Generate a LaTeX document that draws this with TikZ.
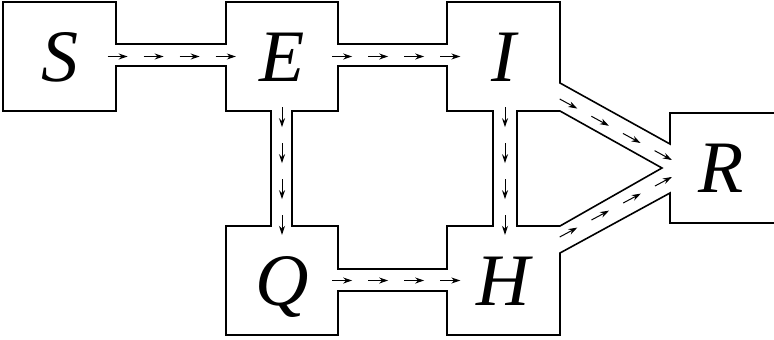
\documentclass[tikz,border=0pt]{standalone}
\usepackage{fontspec}
\setmainfont{Liberation Serif}
\usetikzlibrary{arrows.meta,decorations.markings}

\begin{document}
\begin{tikzpicture}[x=1pt,y=-1pt,>=Stealth,
    comp/.style={minimum width=112pt,minimum height=109pt,inner sep=0pt,
      text height=49pt,text depth=0pt,font=\fontsize{74}{74}\selectfont\itshape},
    wall/.style={line width=1.6pt,line join=miter},
    tip/.style={decoration={markings,
      mark=at position 20pt with {\arrow{Stealth[length=9pt,width=6pt]}},
      mark=at position 56pt with {\arrow{Stealth[length=9pt,width=6pt]}},
      mark=at position 92pt with {\arrow{Stealth[length=9pt,width=6pt]}},
      mark=at position 1 with {\arrow{Stealth[length=9pt,width=6pt]}}}},
    flow/.style={line width=1pt,dash pattern=on 18pt off 18pt,tip,postaction=decorate}]
  \useasboundingbox (0,0) rectangle (774,340);

  % compartments
  \node[comp] (S) at (59.5,56.5) {S};
  \node[comp] (E) at (282,56.5) {E};
  \node[comp] (I) at (503.5,56.5) {I};
  \node[comp] (Q) at (282,280.5) {Q};
  \node[comp] (H) at (503.5,280.5) {H};
  \node[comp,minimum width=102pt,minimum height=110pt] (R) at (721,168) {R};

  % walls of the boxes and pipes (R runs off the right edge)
  \draw[wall] (774,223) -| (670,193) -- (560,253) |- (447,335) |- (338,291)
    |- (226,335) |- (271,226) |- (226,111) |- (116,66) |- (3,111) -- (3,2)
    -| (116,44) -| (226,2) -| (338,44) -| (447,2) -| (560,83) -- (670,144)
    |- (774,113);
  \draw[wall] (292,111) -| (338,66) -| (447,111) -| (493,226) -| (447,269)
    -| (338,226) -- (292,226) -- cycle;
  \draw[wall] (517,111) -- (560,111) -- (662,168) -- (560,226) -- (517,226) -- cycle;

  % flows
  \draw[flow] ([xshift=-8pt]S.east) -- ([xshift=10pt]E.west);
  \draw[flow] ([xshift=-6pt]E.east) -- ([xshift=13pt]I.west);
  \draw[flow] ([xshift=-6pt]Q.east) -- ([xshift=13pt]H.west);
  \draw[flow] ([yshift=4pt]E.south) -- ([yshift=-9pt]Q.north);
  \draw[flow] ([xshift=1.5pt,yshift=4pt]I.south) -- ([xshift=1.5pt,yshift=-9pt]H.north);
  \draw[flow] ([yshift=-42.5pt]I.east) -- ([shift={(2pt,8pt)}]R.west);
  \draw[flow] ([yshift=43.5pt]H.east) -- ([shift={(2pt,-9pt)}]R.west);
\end{tikzpicture}
\end{document}
